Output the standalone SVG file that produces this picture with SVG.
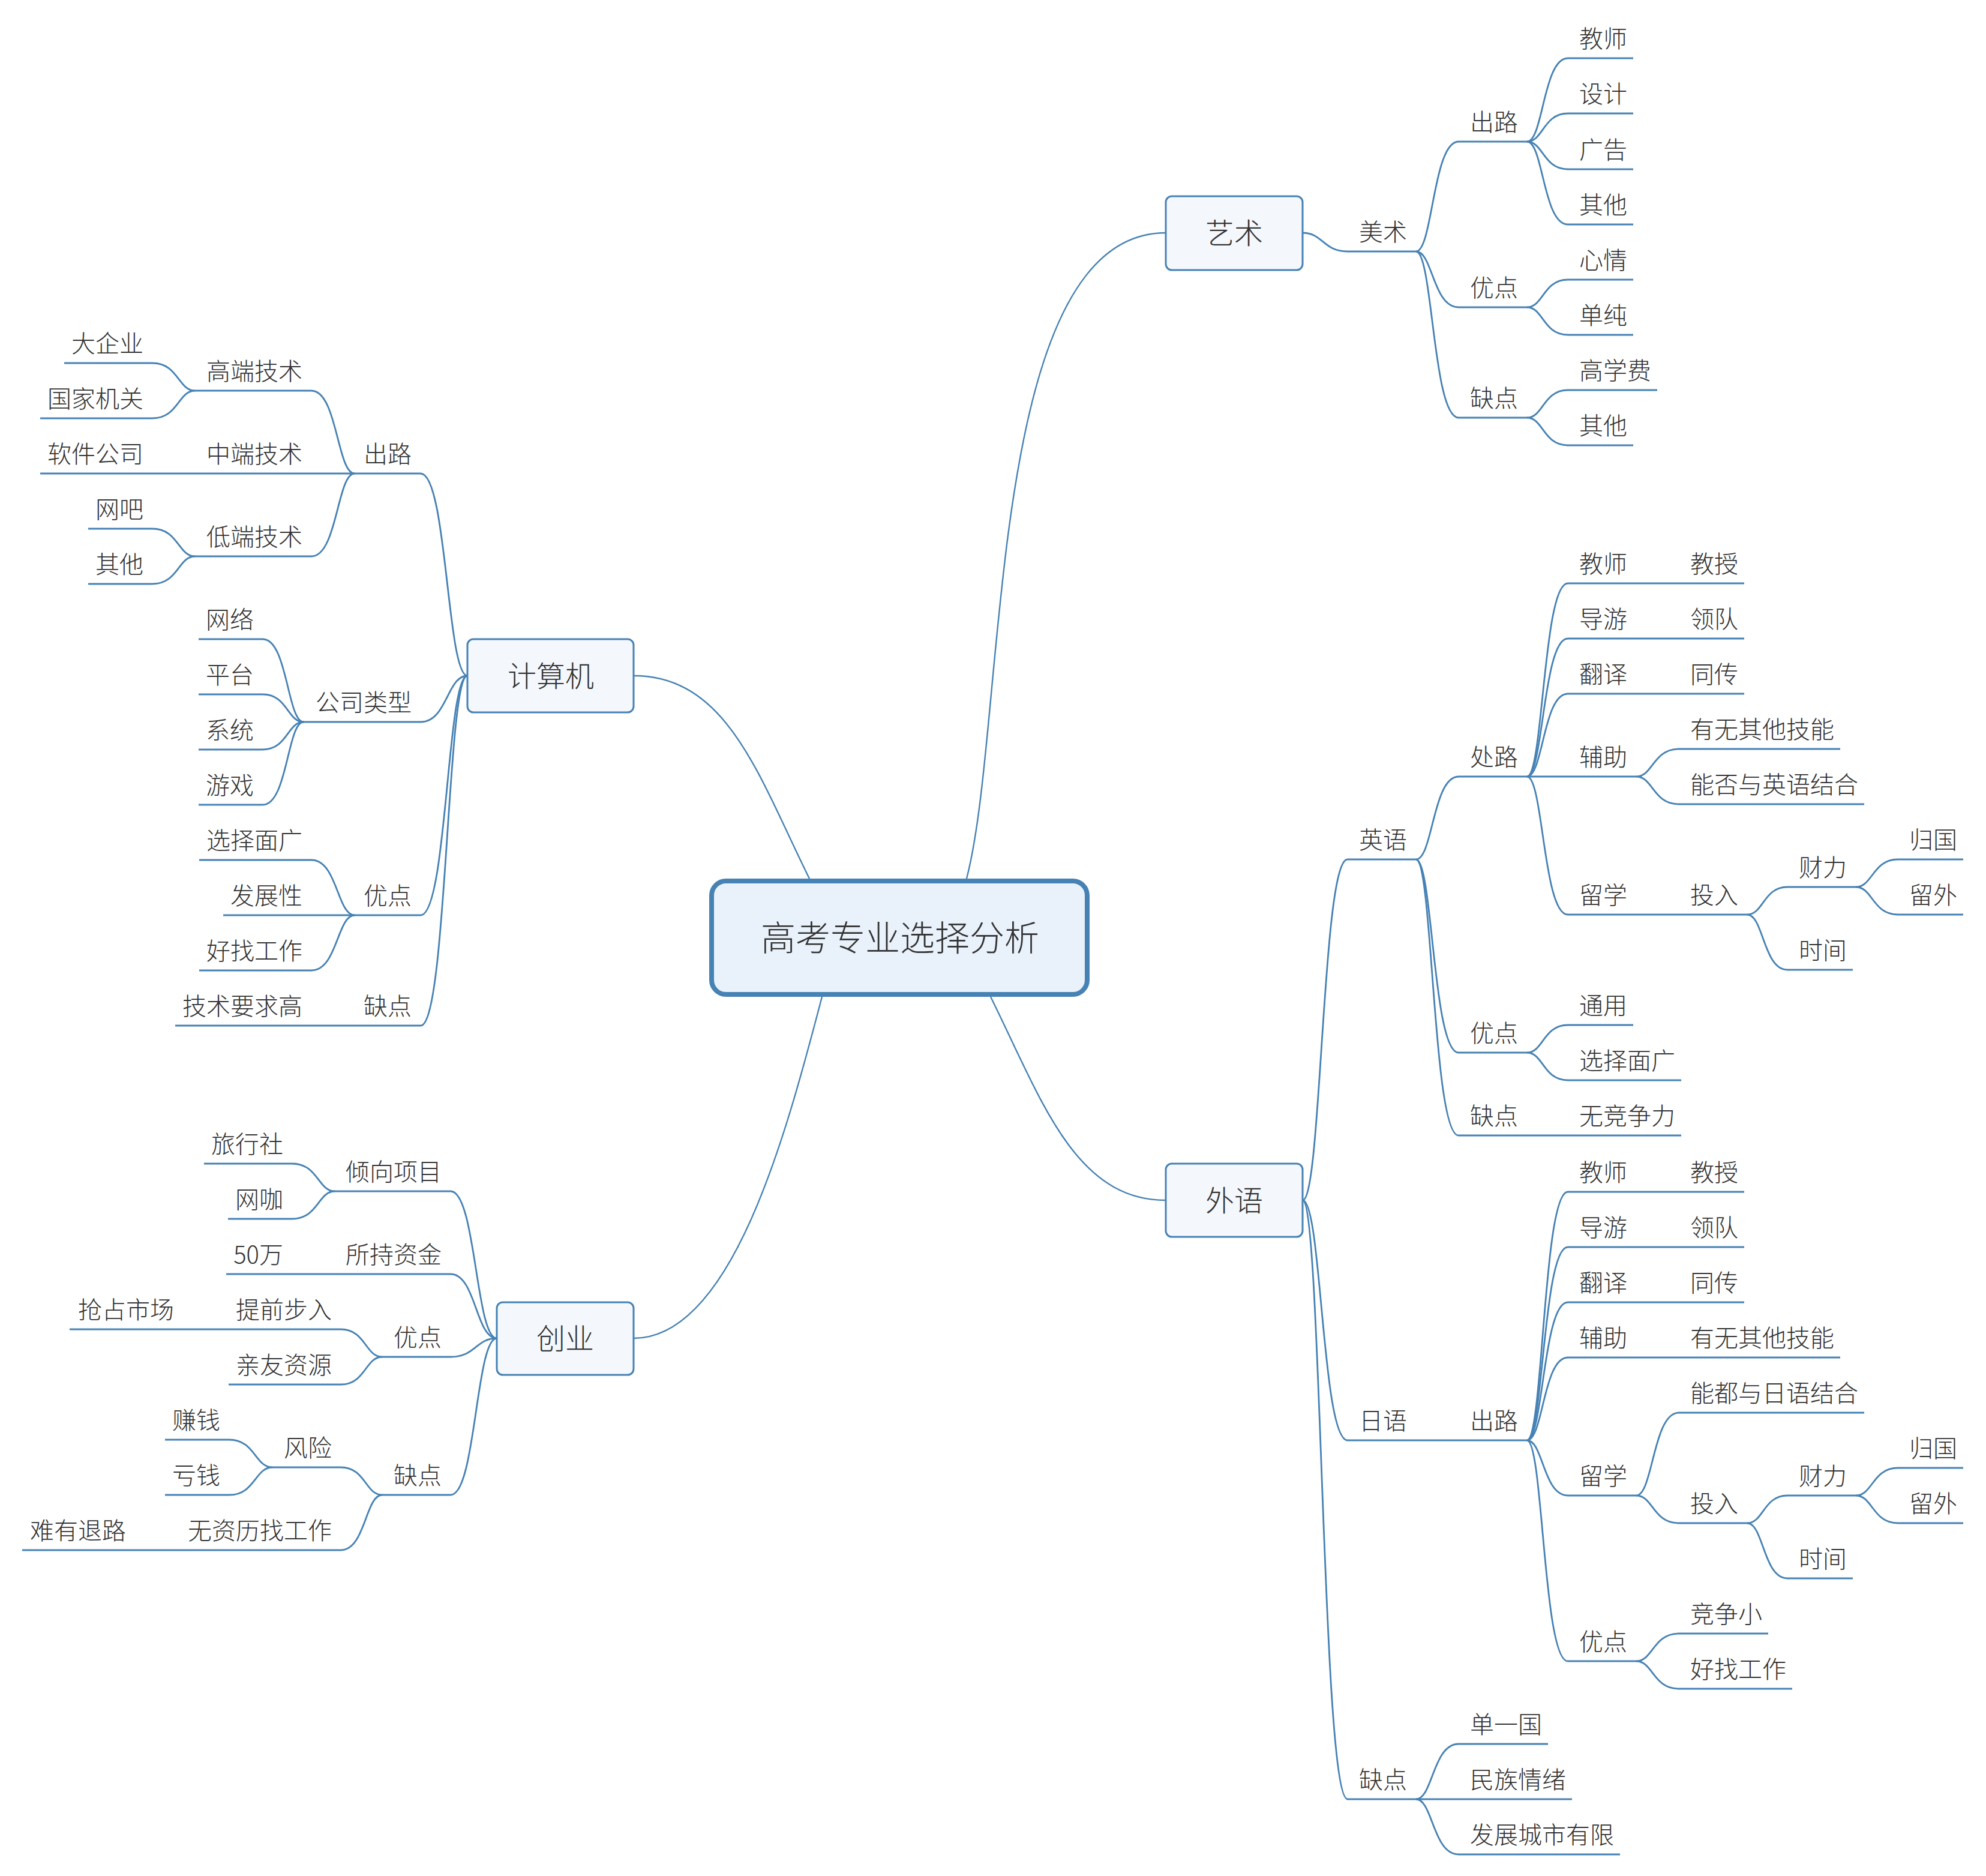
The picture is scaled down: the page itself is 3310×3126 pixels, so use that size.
<svg xmlns="http://www.w3.org/2000/svg" width="3310" height="3126" viewBox="0 0 3310 3126">
<style>
.t{font-family:"Noto Sans CJK SC","Noto Sans",sans-serif;font-size:40px;fill:#333;font-weight:300}
.r{text-anchor:end}
.ul{fill:none;stroke:#4682b4;stroke-width:2.8}
.c path{fill:none;stroke:#4682b4;stroke-width:2.8}
.c .m{stroke-width:2.4}
.box{fill:#f4f8fd;stroke:#4682b4;stroke-width:3}
.bt{font-family:"Noto Sans CJK SC","Noto Sans",sans-serif;font-size:48px;fill:#333;text-anchor:middle;font-weight:300}
</style>
<rect width="3310" height="3126" fill="#fff"/>
<g id="connectors" class="c">
<path class="m" d="M1611 1464 C1680 1200 1640 388 1943 388"/>
<path class="m" d="M1349 1464 C1265 1295 1213 1126 1056 1126"/>
<path class="m" d="M1651 1661 C1735 1830 1790 2000 1943 2000"/>
<path class="m" d="M1370 1661 C1310 1890 1220 2230 1056 2230"/>
<path d="M2171 388 C2205 388 2205 419 2246 419"/>
<path d="M2360 419 C2388 419 2388 236 2431 236"/>
<path d="M2360 419 C2388 419 2388 512 2431 512"/>
<path d="M2360 419 C2388 419 2388 696 2431 696"/>
<path d="M2545 236 C2572 236 2572 97 2613 97"/>
<path d="M2545 236 C2572 236 2572 189 2613 189"/>
<path d="M2545 236 C2572 236 2572 282 2613 282"/>
<path d="M2545 236 C2572 236 2572 374 2613 374"/>
<path d="M2545 512 C2572 512 2572 466 2613 466"/>
<path d="M2545 512 C2572 512 2572 558 2613 558"/>
<path d="M2545 696 C2572 696 2572 650 2613 650"/>
<path d="M2545 696 C2572 696 2572 742 2613 742"/>
<path d="M2171 2000 C2203 2000 2203 1432 2246 1432"/>
<path d="M2171 2000 C2203 2000 2203 2400 2246 2400"/>
<path d="M2171 2000 C2203 2000 2203 2998 2246 2998"/>
<path d="M2360 1432 C2388 1432 2388 1294 2431 1294"/>
<path d="M2360 1432 C2388 1432 2388 1754 2431 1754"/>
<path d="M2360 1432 C2388 1432 2388 1892 2431 1892"/>
<path d="M2545 1294 C2572 1294 2572 972 2613 972"/>
<path d="M2545 1294 C2572 1294 2572 1064 2613 1064"/>
<path d="M2545 1294 C2572 1294 2572 1156 2613 1156"/>
<path d="M2545 1294 H2613"/>
<path d="M2545 1294 C2572 1294 2572 1524 2613 1524"/>
<path d="M2727 972 H2798"/>
<path d="M2727 1064 H2798"/>
<path d="M2727 1156 H2798"/>
<path d="M2727 1294 C2755 1294 2755 1248 2798 1248"/>
<path d="M2727 1294 C2755 1294 2755 1340 2798 1340"/>
<path d="M2727 1524 H2798"/>
<path d="M2912 1524 C2939 1524 2939 1478 2979 1478"/>
<path d="M2912 1524 C2939 1524 2939 1616 2979 1616"/>
<path d="M3093 1478 C3121 1478 3121 1432 3163 1432"/>
<path d="M3093 1478 C3121 1478 3121 1524 3163 1524"/>
<path d="M2545 1754 C2572 1754 2572 1708 2613 1708"/>
<path d="M2545 1754 C2572 1754 2572 1800 2613 1800"/>
<path d="M2545 1892 H2613"/>
<path d="M2360 2400 H2431"/>
<path d="M2545 2400 C2572 2400 2572 1986 2613 1986"/>
<path d="M2545 2400 C2572 2400 2572 2078 2613 2078"/>
<path d="M2545 2400 C2572 2400 2572 2170 2613 2170"/>
<path d="M2545 2400 C2572 2400 2572 2262 2613 2262"/>
<path d="M2545 2400 C2572 2400 2572 2492 2613 2492"/>
<path d="M2545 2400 C2572 2400 2572 2768 2613 2768"/>
<path d="M2727 1986 H2798"/>
<path d="M2727 2078 H2798"/>
<path d="M2727 2170 H2798"/>
<path d="M2727 2262 H2798"/>
<path d="M2727 2492 C2755 2492 2755 2354 2798 2354"/>
<path d="M2727 2492 C2755 2492 2755 2538 2798 2538"/>
<path d="M2912 2538 C2939 2538 2939 2492 2979 2492"/>
<path d="M2912 2538 C2939 2538 2939 2630 2979 2630"/>
<path d="M3093 2492 C3121 2492 3121 2446 3163 2446"/>
<path d="M3093 2492 C3121 2492 3121 2538 3163 2538"/>
<path d="M2727 2768 C2755 2768 2755 2722 2798 2722"/>
<path d="M2727 2768 C2755 2768 2755 2814 2798 2814"/>
<path d="M2360 2998 C2388 2998 2388 2906 2431 2906"/>
<path d="M2360 2998 H2431"/>
<path d="M2360 2998 C2388 2998 2388 3090 2431 3090"/>
<path d="M779 1126 C745 1126 745 789 701 789"/>
<path d="M779 1126 C745 1126 745 1203 701 1203"/>
<path d="M779 1126 C745 1126 745 1525 701 1525"/>
<path d="M779 1126 C745 1126 745 1709 701 1709"/>
<path d="M591 789 C562 789 562 651 519 651"/>
<path d="M591 789 H519"/>
<path d="M591 789 C562 789 562 927 519 927"/>
<path d="M325 651 C297 651 297 605 254 605"/>
<path d="M325 651 C297 651 297 697 254 697"/>
<path d="M325 789 H254"/>
<path d="M325 927 C297 927 297 881 254 881"/>
<path d="M325 927 C297 927 297 973 254 973"/>
<path d="M506 1203 C479 1203 479 1065 438 1065"/>
<path d="M506 1203 C479 1203 479 1157 438 1157"/>
<path d="M506 1203 C479 1203 479 1249 438 1249"/>
<path d="M506 1203 C479 1203 479 1341 438 1341"/>
<path d="M591 1525 C562 1525 562 1433 519 1433"/>
<path d="M591 1525 H519"/>
<path d="M591 1525 C562 1525 562 1617 519 1617"/>
<path d="M591 1709 H519"/>
<path d="M828 2230 C793 2230 793 1985 751 1985"/>
<path d="M828 2230 C793 2230 793 2123 751 2123"/>
<path d="M828 2230 C793 2230 793 2261 751 2261"/>
<path d="M828 2230 C793 2230 793 2491 751 2491"/>
<path d="M558 1985 C530 1985 530 1939 487 1939"/>
<path d="M558 1985 C530 1985 530 2031 487 2031"/>
<path d="M558 2123 H487"/>
<path d="M637 2261 C609 2261 609 2215 568 2215"/>
<path d="M637 2261 C609 2261 609 2307 568 2307"/>
<path d="M376 2215 H305"/>
<path d="M637 2491 C609 2491 609 2445 568 2445"/>
<path d="M637 2491 C609 2491 609 2583 568 2583"/>
<path d="M454 2445 C425 2445 425 2399 382 2399"/>
<path d="M454 2445 C425 2445 425 2491 382 2491"/>
<path d="M296 2583 H225"/>
</g>
<g id="root"><rect x="1186" y="1468" width="626" height="189" rx="24" fill="#e9f1fb" stroke="#4682b4" stroke-width="8"/><text x="1500" y="1584" font-family="Noto Sans CJK SC, Noto Sans, sans-serif" font-size="58" font-weight="300" fill="#333" text-anchor="middle">高考专业选择分析</text></g>
<g id="yishu"><rect class="box" x="1943" y="327" width="228" height="123" rx="10"/><text class="bt" x="2057" y="406">艺术</text></g>
<g id="waiyu"><rect class="box" x="1943" y="1939" width="228" height="122" rx="10"/><text class="bt" x="2057" y="2018">外语</text></g>
<g id="jisuanji"><rect class="box" x="779" y="1065" width="277" height="122" rx="10"/><text class="bt" x="918" y="1144">计算机</text></g>
<g id="chuangye"><rect class="box" x="828" y="2170" width="228" height="121" rx="10"/><text class="bt" x="942" y="2248">创业</text></g>
<g id="meishu"><path class="ul" d="M2246 419 H2360"/><text class="t" x="2265" y="401">美术</text></g>
<g id="ys-chulu"><path class="ul" d="M2431 236 H2545"/><text class="t" x="2450" y="218">出路</text></g>
<g id="ys-jiaoshi"><path class="ul" d="M2613 97 H2722"/><text class="t" x="2632" y="79">教师</text></g>
<g id="ys-sheji"><path class="ul" d="M2613 189 H2722"/><text class="t" x="2632" y="171">设计</text></g>
<g id="ys-guanggao"><path class="ul" d="M2613 282 H2722"/><text class="t" x="2632" y="264">广告</text></g>
<g id="ys-qita1"><path class="ul" d="M2613 374 H2722"/><text class="t" x="2632" y="356">其他</text></g>
<g id="ys-youdian"><path class="ul" d="M2431 512 H2545"/><text class="t" x="2450" y="494">优点</text></g>
<g id="ys-xinqing"><path class="ul" d="M2613 466 H2722"/><text class="t" x="2632" y="448">心情</text></g>
<g id="ys-danchun"><path class="ul" d="M2613 558 H2722"/><text class="t" x="2632" y="540">单纯</text></g>
<g id="ys-quedian"><path class="ul" d="M2431 696 H2545"/><text class="t" x="2450" y="678">缺点</text></g>
<g id="ys-gaoxuefei"><path class="ul" d="M2613 650 H2762"/><text class="t" x="2632" y="632">高学费</text></g>
<g id="ys-qita2"><path class="ul" d="M2613 742 H2722"/><text class="t" x="2632" y="724">其他</text></g>
<g id="yingyu"><path class="ul" d="M2246 1432 H2360"/><text class="t" x="2265" y="1414">英语</text></g>
<g id="yy-chulu"><path class="ul" d="M2431 1294 H2545"/><text class="t" x="2450" y="1276">处路</text></g>
<g id="yy-jiaoshi"><path class="ul" d="M2613 972 H2727"/><text class="t" x="2632" y="954">教师</text></g>
<g id="yy-jiaoshou"><path class="ul" d="M2798 972 H2907"/><text class="t" x="2817" y="954">教授</text></g>
<g id="yy-daoyou"><path class="ul" d="M2613 1064 H2727"/><text class="t" x="2632" y="1046">导游</text></g>
<g id="yy-lingdui"><path class="ul" d="M2798 1064 H2907"/><text class="t" x="2817" y="1046">领队</text></g>
<g id="yy-fanyi"><path class="ul" d="M2613 1156 H2727"/><text class="t" x="2632" y="1138">翻译</text></g>
<g id="yy-tongchuan"><path class="ul" d="M2798 1156 H2907"/><text class="t" x="2817" y="1138">同传</text></g>
<g id="yy-fuzhu"><path class="ul" d="M2613 1294 H2727"/><text class="t" x="2632" y="1276">辅助</text></g>
<g id="yy-youwu"><path class="ul" d="M2798 1248 H3067"/><text class="t" x="2817" y="1230">有无其他技能</text></g>
<g id="yy-nengfou"><path class="ul" d="M2798 1340 H3107"/><text class="t" x="2817" y="1322">能否与英语结合</text></g>
<g id="yy-liuxue"><path class="ul" d="M2613 1524 H2727"/><text class="t" x="2632" y="1506">留学</text></g>
<g id="yy-touru"><path class="ul" d="M2798 1524 H2912"/><text class="t" x="2817" y="1506">投入</text></g>
<g id="yy-caili"><path class="ul" d="M2979 1478 H3093"/><text class="t" x="2998" y="1460">财力</text></g>
<g id="yy-guiguo"><path class="ul" d="M3163 1432 H3272"/><text class="t" x="3182" y="1414">归国</text></g>
<g id="yy-liuwai"><path class="ul" d="M3163 1524 H3272"/><text class="t" x="3182" y="1506">留外</text></g>
<g id="yy-shijian"><path class="ul" d="M2979 1616 H3088"/><text class="t" x="2998" y="1598">时间</text></g>
<g id="yy-youdian"><path class="ul" d="M2431 1754 H2545"/><text class="t" x="2450" y="1736">优点</text></g>
<g id="yy-tongyong"><path class="ul" d="M2613 1708 H2722"/><text class="t" x="2632" y="1690">通用</text></g>
<g id="yy-xuanze"><path class="ul" d="M2613 1800 H2802"/><text class="t" x="2632" y="1782">选择面广</text></g>
<g id="yy-quedian"><path class="ul" d="M2431 1892 H2545"/><text class="t" x="2450" y="1874">缺点</text></g>
<g id="yy-wujingzheng"><path class="ul" d="M2613 1892 H2802"/><text class="t" x="2632" y="1874">无竞争力</text></g>
<g id="riyu"><path class="ul" d="M2246 2400 H2360"/><text class="t" x="2265" y="2382">日语</text></g>
<g id="ry-chulu"><path class="ul" d="M2431 2400 H2545"/><text class="t" x="2450" y="2382">出路</text></g>
<g id="ry-jiaoshi"><path class="ul" d="M2613 1986 H2727"/><text class="t" x="2632" y="1968">教师</text></g>
<g id="ry-jiaoshou"><path class="ul" d="M2798 1986 H2907"/><text class="t" x="2817" y="1968">教授</text></g>
<g id="ry-daoyou"><path class="ul" d="M2613 2078 H2727"/><text class="t" x="2632" y="2060">导游</text></g>
<g id="ry-lingdui"><path class="ul" d="M2798 2078 H2907"/><text class="t" x="2817" y="2060">领队</text></g>
<g id="ry-fanyi"><path class="ul" d="M2613 2170 H2727"/><text class="t" x="2632" y="2152">翻译</text></g>
<g id="ry-tongchuan"><path class="ul" d="M2798 2170 H2907"/><text class="t" x="2817" y="2152">同传</text></g>
<g id="ry-fuzhu"><path class="ul" d="M2613 2262 H2727"/><text class="t" x="2632" y="2244">辅助</text></g>
<g id="ry-youwu"><path class="ul" d="M2798 2262 H3067"/><text class="t" x="2817" y="2244">有无其他技能</text></g>
<g id="ry-liuxue"><path class="ul" d="M2613 2492 H2727"/><text class="t" x="2632" y="2474">留学</text></g>
<g id="ry-nengdu"><path class="ul" d="M2798 2354 H3107"/><text class="t" x="2817" y="2336">能都与日语结合</text></g>
<g id="ry-touru"><path class="ul" d="M2798 2538 H2912"/><text class="t" x="2817" y="2520">投入</text></g>
<g id="ry-caili"><path class="ul" d="M2979 2492 H3093"/><text class="t" x="2998" y="2474">财力</text></g>
<g id="ry-guiguo"><path class="ul" d="M3163 2446 H3272"/><text class="t" x="3182" y="2428">归国</text></g>
<g id="ry-liuwai"><path class="ul" d="M3163 2538 H3272"/><text class="t" x="3182" y="2520">留外</text></g>
<g id="ry-shijian"><path class="ul" d="M2979 2630 H3088"/><text class="t" x="2998" y="2612">时间</text></g>
<g id="ry-youdian"><path class="ul" d="M2613 2768 H2727"/><text class="t" x="2632" y="2750">优点</text></g>
<g id="ry-jingzheng"><path class="ul" d="M2798 2722 H2947"/><text class="t" x="2817" y="2704">竞争小</text></g>
<g id="ry-haozhao"><path class="ul" d="M2798 2814 H2987"/><text class="t" x="2817" y="2796">好找工作</text></g>
<g id="wy-quedian"><path class="ul" d="M2246 2998 H2360"/><text class="t" x="2265" y="2980">缺点</text></g>
<g id="wy-danyi"><path class="ul" d="M2431 2906 H2580"/><text class="t" x="2450" y="2888">单一国</text></g>
<g id="wy-minzu"><path class="ul" d="M2431 2998 H2620"/><text class="t" x="2450" y="2980">民族情绪</text></g>
<g id="wy-fazhan"><path class="ul" d="M2431 3090 H2700"/><text class="t" x="2450" y="3072">发展城市有限</text></g>
<g id="jsj-chulu"><path class="ul" d="M591 789 H701"/><text class="t r" x="686" y="771">出路</text></g>
<g id="gaoduan"><path class="ul" d="M325 651 H519"/><text class="t r" x="504" y="633">高端技术</text></g>
<g id="zhongduan"><path class="ul" d="M325 789 H519"/><text class="t r" x="504" y="771">中端技术</text></g>
<g id="diduan"><path class="ul" d="M325 927 H519"/><text class="t r" x="504" y="909">低端技术</text></g>
<g id="daqiye"><path class="ul" d="M107 605 H254"/><text class="t r" x="239" y="587">大企业</text></g>
<g id="guojia"><path class="ul" d="M67 697 H254"/><text class="t r" x="239" y="679">国家机关</text></g>
<g id="ruanjian"><path class="ul" d="M67 789 H254"/><text class="t r" x="239" y="771">软件公司</text></g>
<g id="wangba"><path class="ul" d="M147 881 H254"/><text class="t r" x="239" y="863">网吧</text></g>
<g id="qita3"><path class="ul" d="M147 973 H254"/><text class="t r" x="239" y="955">其他</text></g>
<g id="gongsi"><path class="ul" d="M506 1203 H701"/><text class="t r" x="686" y="1185">公司类型</text></g>
<g id="wangluo"><path class="ul" d="M331 1065 H438"/><text class="t r" x="423" y="1047">网络</text></g>
<g id="pingtai"><path class="ul" d="M331 1157 H438"/><text class="t r" x="423" y="1139">平台</text></g>
<g id="xitong"><path class="ul" d="M331 1249 H438"/><text class="t r" x="423" y="1231">系统</text></g>
<g id="youxi"><path class="ul" d="M331 1341 H438"/><text class="t r" x="423" y="1323">游戏</text></g>
<g id="jsj-youdian"><path class="ul" d="M591 1525 H701"/><text class="t r" x="686" y="1507">优点</text></g>
<g id="jsj-xuanze"><path class="ul" d="M332 1433 H519"/><text class="t r" x="504" y="1415">选择面广</text></g>
<g id="fazhanxing"><path class="ul" d="M372 1525 H519"/><text class="t r" x="504" y="1507">发展性</text></g>
<g id="jsj-haozhao"><path class="ul" d="M332 1617 H519"/><text class="t r" x="504" y="1599">好找工作</text></g>
<g id="jsj-quedian"><path class="ul" d="M591 1709 H701"/><text class="t r" x="686" y="1691">缺点</text></g>
<g id="jishu"><path class="ul" d="M292 1709 H519"/><text class="t r" x="504" y="1691">技术要求高</text></g>
<g id="qingxiang"><path class="ul" d="M558 1985 H751"/><text class="t r" x="736" y="1967">倾向项目</text></g>
<g id="lvxing"><path class="ul" d="M340 1939 H487"/><text class="t r" x="472" y="1921">旅行社</text></g>
<g id="wangka"><path class="ul" d="M380 2031 H487"/><text class="t r" x="472" y="2013">网咖</text></g>
<g id="suochi"><path class="ul" d="M558 2123 H751"/><text class="t r" x="736" y="2105">所持资金</text></g>
<g id="wushiwan"><path class="ul" d="M377 2123 H487"/><text class="t r" x="472" y="2105">50万</text></g>
<g id="cy-youdian"><path class="ul" d="M637 2261 H751"/><text class="t r" x="736" y="2243">优点</text></g>
<g id="tiqian"><path class="ul" d="M376 2215 H568"/><text class="t r" x="553" y="2197">提前步入</text></g>
<g id="qiangzhan"><path class="ul" d="M116 2215 H305"/><text class="t r" x="290" y="2197">抢占市场</text></g>
<g id="qinyou"><path class="ul" d="M381 2307 H568"/><text class="t r" x="553" y="2289">亲友资源</text></g>
<g id="cy-quedian"><path class="ul" d="M637 2491 H751"/><text class="t r" x="736" y="2473">缺点</text></g>
<g id="fengxian"><path class="ul" d="M454 2445 H568"/><text class="t r" x="553" y="2427">风险</text></g>
<g id="zhuanqian"><path class="ul" d="M275 2399 H382"/><text class="t r" x="367" y="2381">赚钱</text></g>
<g id="kuiqian"><path class="ul" d="M275 2491 H382"/><text class="t r" x="367" y="2473">亏钱</text></g>
<g id="wuzili"><path class="ul" d="M296 2583 H568"/><text class="t r" x="553" y="2565">无资历找工作</text></g>
<g id="nanyou"><path class="ul" d="M37 2583 H225"/><text class="t r" x="210" y="2565">难有退路</text></g>
</svg>
